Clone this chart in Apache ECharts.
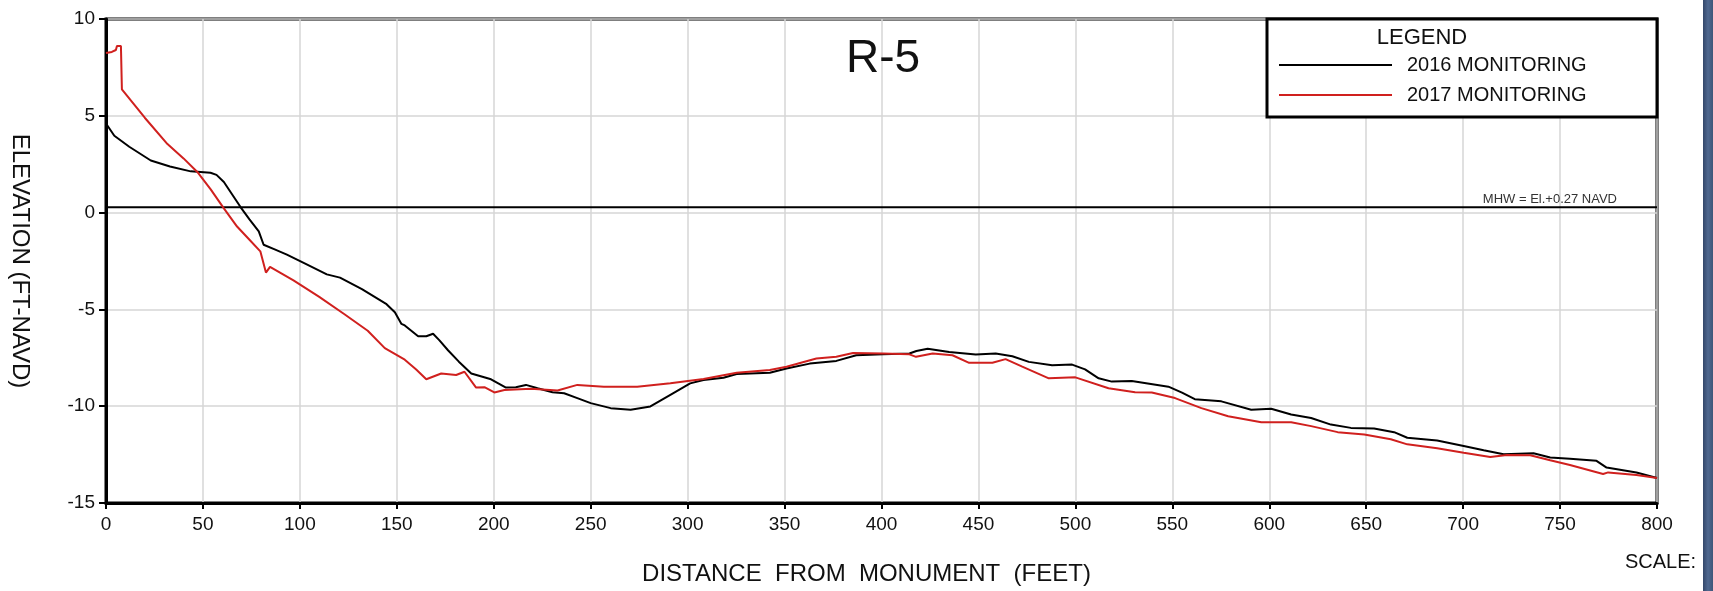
<!DOCTYPE html>
<html>
<head>
<meta charset="utf-8">
<script src="https://cdn.jsdelivr.net/npm/echarts@6/dist/echarts.min.js"></script>
<style>
html,body{margin:0;padding:0;background:#fff;}
#chart{width:1713px;height:591px;}
</style>
</head>
<body>
<div id="chart"></div>
<script>
// Distance from monument (ft), elevation (ft NAVD)
const profile2016 = [
  [0,4.6],[4.3,3.97],[12,3.4],[23.1,2.69],[33,2.38],[43.7,2.13],[53.9,2.06],[54.4,2.15],[57,1.95],
  [60.8,1.58],[65,0.95],[69.3,0.3],[74,-0.35],[78.8,-0.97],[81.3,-1.66],[87,-1.9],[93.3,-2.17],
  [103,-2.65],[113.9,-3.19],[120.7,-3.36],[132,-3.95],[144.7,-4.73],[149,-5.15],[152.4,-5.75],
  [154.1,-5.83],[161,-6.39],[165.2,-6.39],[168.7,-6.26],[172,-6.6],[176.4,-7.11],[182,-7.7],
  [188.4,-8.31],[198.6,-8.61],[206.3,-9.04],[211.4,-9.02],[216.6,-8.9],[222.6,-9.07],[230.3,-9.28],
  [236.3,-9.33],[243.1,-9.58],[250,-9.84],[260.3,-10.1],[270.6,-10.18],[280.8,-10.01],[291.1,-9.41],
  [301.3,-8.82],[308.2,-8.65],[318.5,-8.53],[325.3,-8.34],[342.4,-8.27],[351,-8.05],[363,-7.8],
  [376.7,-7.66],[387,-7.37],[400.7,-7.32],[414.4,-7.28],[418,-7.15],[423.8,-7.03],[434.9,-7.2],
  [448.6,-7.33],[458.9,-7.28],[467.5,-7.42],[476,-7.71],[488,-7.88],[498.3,-7.85],[505,-8.1],
  [512,-8.56],[518.8,-8.73],[529.1,-8.7],[548,-8.99],[555,-9.3],[561.6,-9.64],[575.3,-9.75],
  [590.7,-10.18],[601,-10.13],[611.3,-10.43],[621.6,-10.61],[631.8,-10.95],[642.1,-11.12],
  [654.1,-11.15],[664.4,-11.34],[671.2,-11.63],[686.6,-11.77],[700.3,-12.06],[710.6,-12.28],
  [720.9,-12.48],[736.3,-12.43],[744.9,-12.65],[755.1,-12.71],[768.8,-12.82],[774,-13.17],
  [789.4,-13.42],[800,-13.71]
];
const profile2017 = [
  [0,8.24],[3,8.3],[5.1,8.4],[5.65,8.6],[7.7,8.6],[8.2,6.36],[20,4.9],[31.7,3.54],[40,2.8],
  [47.1,2.1],[54,1.2],[60.8,0.22],[67.6,-0.72],[74,-1.4],[79.6,-2.0],[82.5,-3.1],[84.6,-2.8],
  [96.7,-3.5],[110,-4.35],[123,-5.25],[135,-6.1],[143.8,-7.0],[154.1,-7.6],[160,-8.1],[165.2,-8.61],
  [172.9,-8.31],[180.6,-8.39],[184.9,-8.22],[190.9,-9.04],[195.2,-9.02],[200.3,-9.29],[205.5,-9.16],
  [219.2,-9.1],[232.9,-9.19],[243.1,-8.9],[256.8,-8.99],[274,-8.99],[291.1,-8.82],[308.2,-8.6],
  [325.3,-8.27],[342.4,-8.13],[351,-7.96],[366.4,-7.54],[376.7,-7.45],[385.3,-7.25],[400.7,-7.28],
  [414.4,-7.32],[417.8,-7.45],[426.4,-7.28],[436.6,-7.37],[445.2,-7.76],[457.2,-7.76],[464,-7.57],
  [472.6,-7.96],[486.3,-8.56],[500,-8.51],[517.1,-9.07],[530.8,-9.28],[539.4,-9.29],[551.4,-9.58],
  [565,-10.1],[578.8,-10.52],[595.9,-10.83],[611.3,-10.83],[621.6,-11.03],[635.3,-11.34],
  [649,-11.46],[662.7,-11.71],[671.2,-11.97],[686.6,-12.17],[700.3,-12.4],[714,-12.62],
  [722.6,-12.52],[734.6,-12.53],[744.9,-12.79],[755.1,-13.04],[772.2,-13.5],[774.8,-13.42],
  [789.4,-13.55],[800,-13.71]
];
const mhwElevation = 0.27;
const xRange = [0, 800];
const yRange = [-15, 10];
const seriesNames = ['2016 MONITORING', '2017 MONITORING'];
const chartTitle = 'R-5';
const xAxisTitle = 'DISTANCE  FROM  MONUMENT  (FEET)';
const yAxisTitle = 'ELEVATION (FT-NAVD)';
const mhwLabel = 'MHW = El.+0.27 NAVD';

const FONT = '"Liberation Sans", Arial, Helvetica, sans-serif';
const chart = echarts.init(document.getElementById('chart'));

chart.setOption({
  animation: false,
  backgroundColor: '#ffffff',
  textStyle: { fontFamily: FONT },
  grid: {
    left: 100, top: 19, width: 1557, height: 489,
    show: true, borderColor: '#000', borderWidth: 3, backgroundColor: 'transparent'
  },
  xAxis: {
    type: 'value', min: xRange[0], max: xRange[1], interval: 50,
    name: xAxisTitle, nameLocation: 'middle', nameGap: 59,
    nameTextStyle: { fontSize: 24, color: '#111', fontFamily: FONT, padding: [0, 30, 0, 0] },
    axisLine: { show: true, onZero: false, lineStyle: { color: '#000', width: 3 } },
    axisTick: { show: true, length: 6, lineStyle: { color: '#000', width: 2 } },
    axisLabel: { fontSize: 19, color: '#111', margin: 12, fontFamily: FONT },
    splitLine: { show: true, lineStyle: { color: '#d6d6d6', width: 1.5 } }
  },
  yAxis: {
    type: 'value', min: yRange[0], max: yRange[1], interval: 5,
    name: yAxisTitle, nameLocation: 'middle', nameRotate: -90, nameGap: 74,
    nameTextStyle: { fontSize: 24, color: '#111', fontFamily: FONT },
    axisLine: { show: true, onZero: false, lineStyle: { color: '#000', width: 3 } },
    axisTick: { show: true, length: 7, lineStyle: { color: '#000', width: 2 } },
    axisLabel: { fontSize: 19, color: '#111', margin: 11, fontFamily: FONT },
    splitLine: { show: true, lineStyle: { color: '#d6d6d6', width: 1.5 } }
  },
  legend: {
    data: seriesNames, orient: 'vertical', left: 1279, top: 55, padding: 0,
    itemWidth: 113, itemHeight: 2, itemGap: 10, icon: 'rect', selectedMode: false, z: 20,
    textStyle: { fontSize: 20, color: '#111', fontFamily: FONT, padding: [0, 0, 0, 10] }
  },
  graphic: [
    { type: 'rect', z: 15, shape: { x: 1267, y: 19, width: 390, height: 98 },
      style: { fill: '#fff', stroke: '#000', lineWidth: 3 } },
    { type: 'text', z: 16, style: { x: 1422, y: 38, text: 'LEGEND', fontSize: 22, fontFamily: FONT,
      fill: '#111', textAlign: 'center', textVerticalAlign: 'middle' } },
    { type: 'text', z: 16, style: { x: 883, y: 59, text: chartTitle, fontSize: 46, fontFamily: FONT,
      fill: '#111', textAlign: 'center', textVerticalAlign: 'middle' } },
    { type: 'text', z: 16, style: { x: 1617, y: 199, text: mhwLabel, fontSize: 13, fontFamily: FONT,
      fill: '#333', textAlign: 'right', textVerticalAlign: 'middle' } },
    { type: 'text', z: 16, style: { x: 1625, y: 562, text: 'SCALE:', fontSize: 20, fontFamily: FONT,
      fill: '#111', textAlign: 'left', textVerticalAlign: 'middle' } },
    { type: 'rect', z: 30, shape: { x: 1703, y: 0, width: 10, height: 591 },
      style: { fill: new echarts.graphic.LinearGradient(0, 0, 1, 0, [
        { offset: 0, color: '#33476a' }, { offset: 0.5, color: '#4f6890' }, { offset: 1, color: '#3e5679' }
      ]) } }
  ],
  series: [
    {
      name: 'MHW', type: 'line', data: [[xRange[0], mhwElevation], [xRange[1], mhwElevation]],
      symbol: 'none', lineStyle: { color: '#000', width: 2 }, silent: true, z: 3
    },
    {
      name: seriesNames[0], type: 'line', data: profile2016, symbol: 'none',
      color: '#000', lineStyle: { color: '#000', width: 2 }, z: 4
    },
    {
      name: seriesNames[1], type: 'line', data: profile2017, symbol: 'none',
      color: '#d0201e', lineStyle: { color: '#d0201e', width: 2 }, z: 5
    }
  ]
});
</script>
</body>
</html>
